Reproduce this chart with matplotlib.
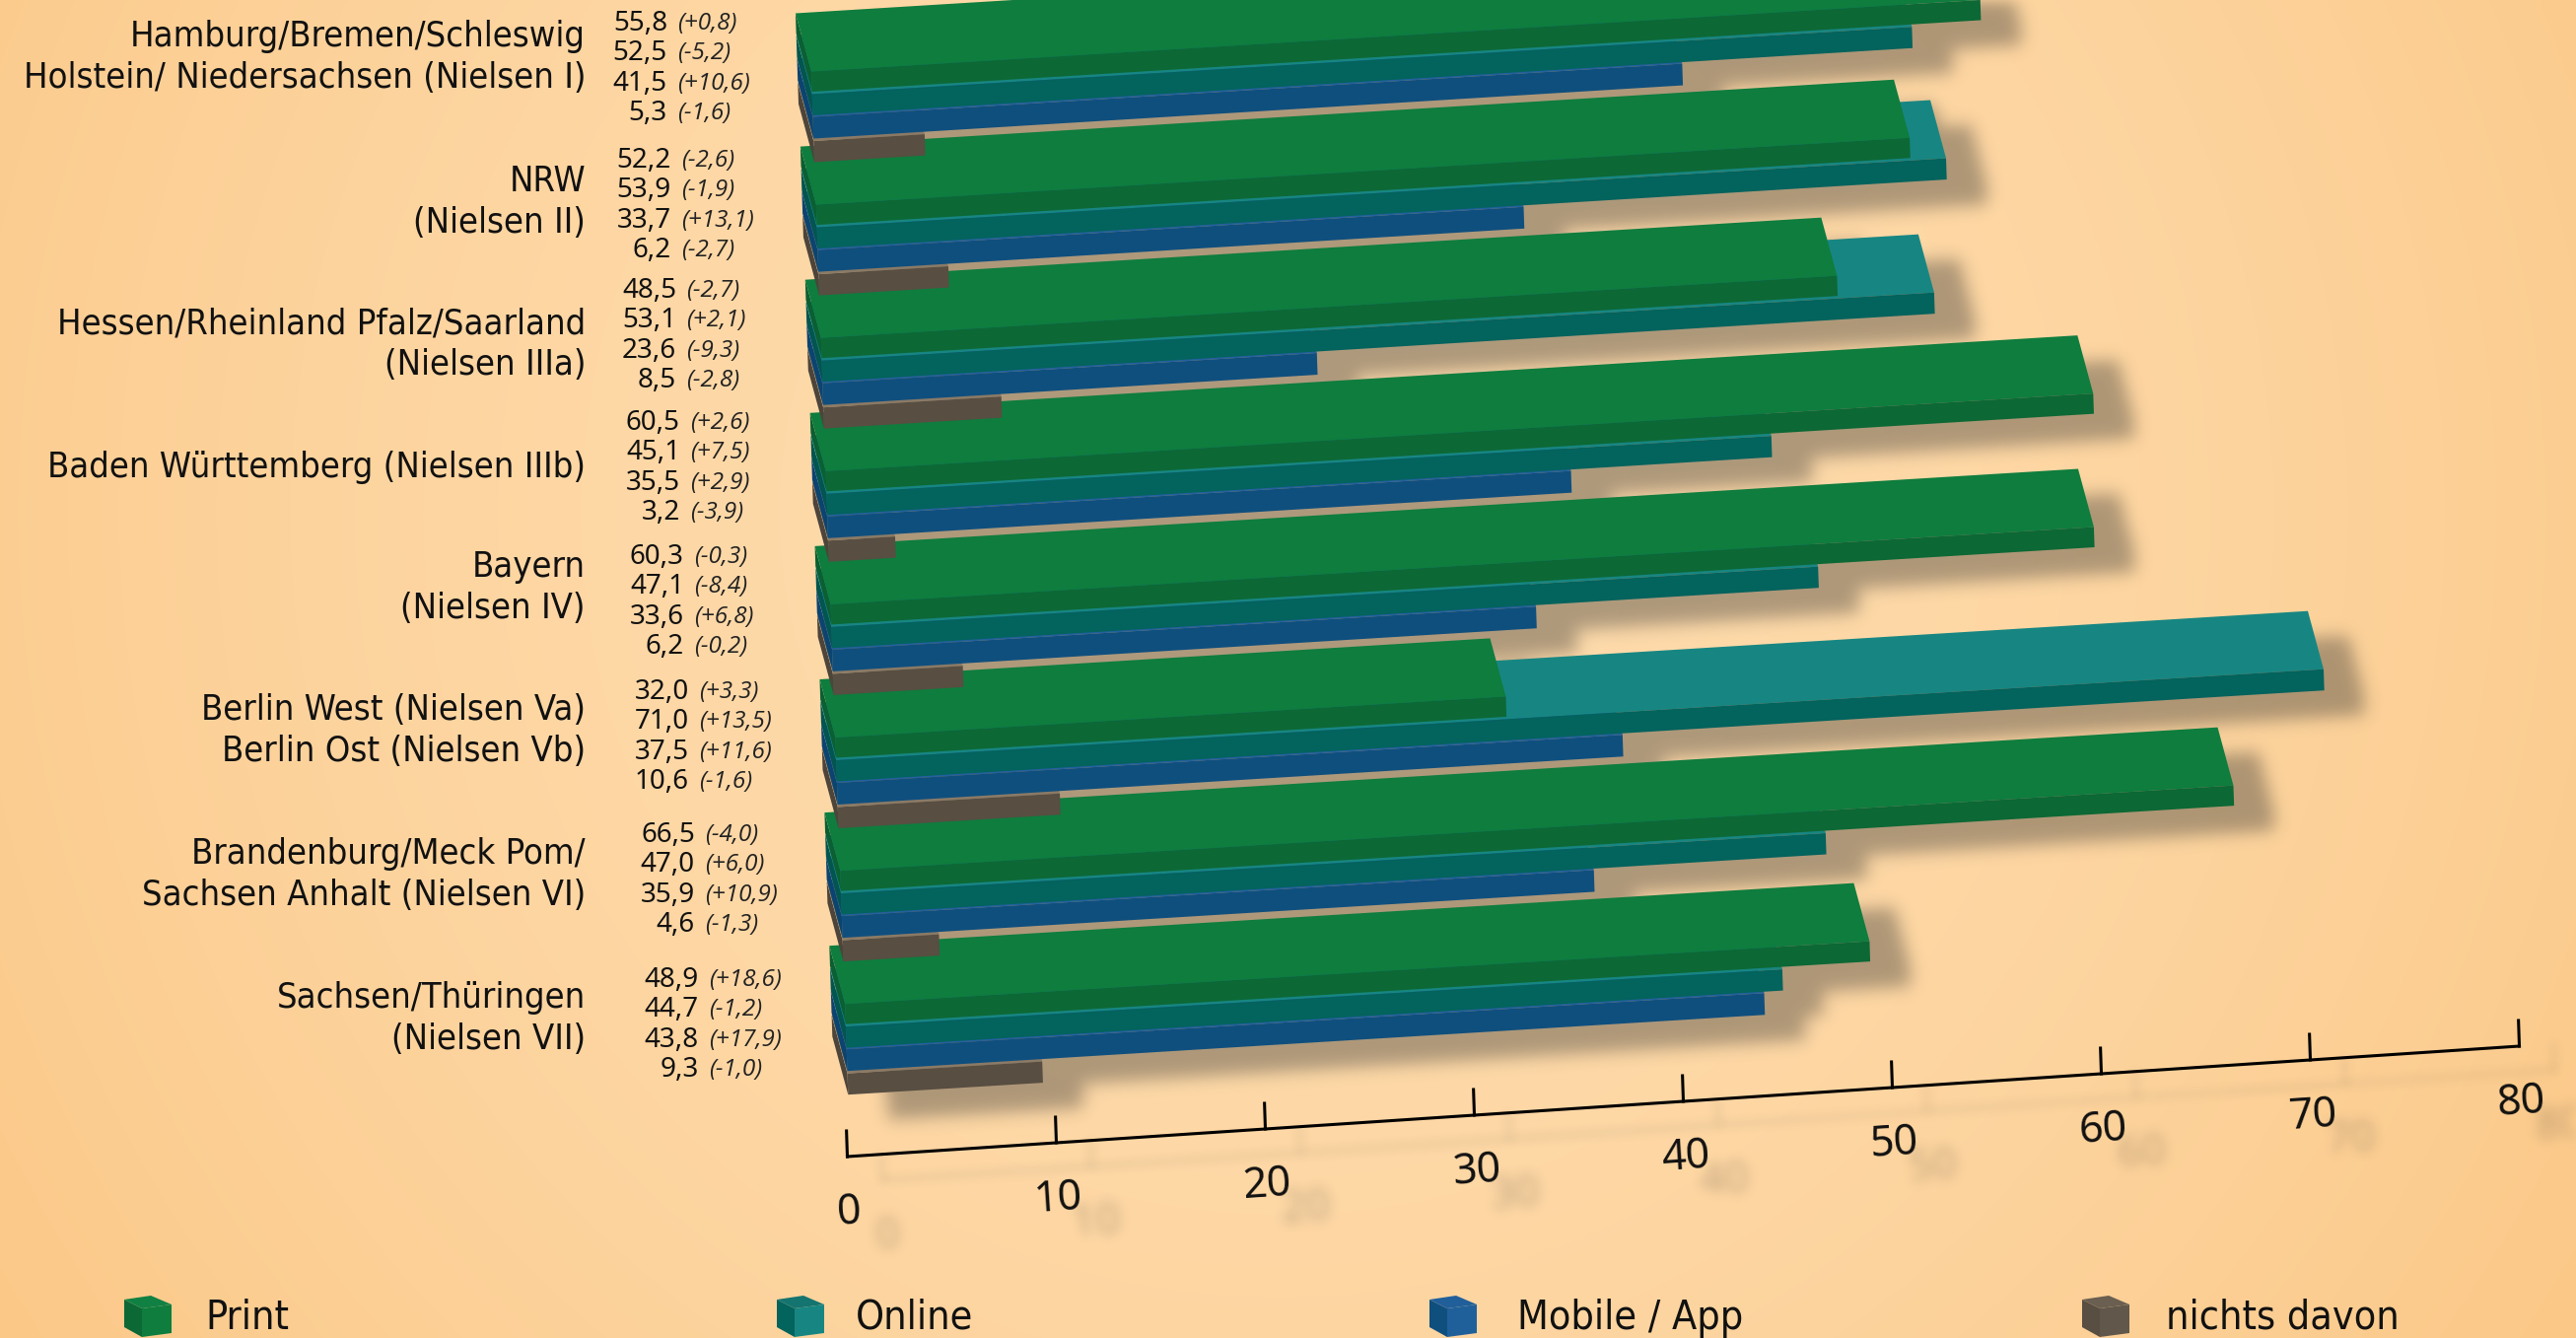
import matplotlib
matplotlib.use("Agg")
import matplotlib.pyplot as plt
from matplotlib.patches import Polygon, PathPatch
from matplotlib.collections import PolyCollection
from matplotlib.font_manager import FontProperties
from matplotlib.textpath import TextPath
from matplotlib.transforms import Affine2D
import numpy as np

regions = [
    "Hamburg/Bremen/Schleswig\nHolstein/ Niedersachsen (Nielsen I)",
    "NRW\n(Nielsen II)",
    "Hessen/Rheinland Pfalz/Saarland\n(Nielsen IIIa)",
    "Baden Württemberg (Nielsen IIIb)",
    "Bayern\n(Nielsen IV)",
    "Berlin West (Nielsen Va)\nBerlin Ost (Nielsen Vb)",
    "Brandenburg/Meck Pom/\nSachsen Anhalt (Nielsen VI)",
    "Sachsen/Thüringen\n(Nielsen VII)",
]
print_vals = [55.8, 52.2, 48.5, 60.5, 60.3, 32.0, 66.5, 48.9]
online_vals = [52.5, 53.9, 53.1, 45.1, 47.1, 71.0, 47.0, 44.7]
mobile_vals = [41.5, 33.7, 23.6, 35.5, 33.6, 37.5, 35.9, 43.8]
none_vals = [5.3, 6.2, 8.5, 3.2, 6.2, 10.6, 4.6, 9.3]

print_diff = [0.8, -2.6, -2.7, 2.6, -0.3, 3.3, -4.0, 18.6]
online_diff = [-5.2, -1.9, 2.1, 7.5, -8.4, 13.5, 6.0, -1.2]
mobile_diff = [10.6, 13.1, -9.3, 2.9, 6.8, 11.6, 10.9, 17.9]
none_diff = [-1.6, -2.7, -2.8, -3.9, -0.2, -1.6, -1.3, -1.0]

ticks = [0, 10, 20, 30, 40, 50, 60, 70, 80]
legend_names = ["Print", "Online", "Mobile / App", "nichts davon"]

W, H = 2613, 1357

# the sheared "3d" coordinate system, everything in pixels of the target
X0, Y0 = 826, 164.5   # front bottom left corner of the first group
GX, GY = 4.9, 135.1   # step per group
VX, VY = 21.25, -1.3  # step per unit of value
BX, BY = -16, -59     # depth of a bar
SLANT = 0.033

# bottom, top of each slab above the group's base line
layers = [
    (none_vals, 0, 21.5, "#584e42", "#8a7a66", "#4d443a"),
    (mobile_vals, 24, 46, "#0f4f7e", "#23619f", "#0c4470"),
    (online_vals, 47.5, 69, "#03635d", "#178682", "#03554f"),
    (print_vals, 71.5, 92, "#0c6835", "#0e7d3e", "#0b5f32"),
]
cubes = [
    (126, "#0c6835", "#0e7d3e", "#118043"),
    (788, "#03635d", "#178682", "#14746f"),
    (1450, "#0f4f7e", "#20609a", "#205f9a"),
    (2112, "#584e42", "#61574a", "#6a5f50"),
]
legend_x = [208, 868, 1539, 2197]

label_y = [58, 205, 349, 474, 596, 741, 887, 1033]
value_y = [24, 163, 295, 429, 565, 702, 847, 994]
value_x = [677, 681, 686, 690, 694, 699, 705, 709]


def pt(g, val=0, up=0, back=0):
    x = X0 + GX * g + VX * val - SLANT * up + BX * back
    y = Y0 + GY * g + VY * val - up + BY * back
    return (x, y)


def axis_pt(val, up=0):
    return (859.5 + 21.2 * val - SLANT * up, 1173 - 1.4 * val - up)


class Shadow:
    # agg filter: blur the alpha of whatever was drawn, fill with one colour
    def __init__(self, sigma, alpha, color=(0.21, 0.21, 0.2)):
        self.sigma = sigma
        self.alpha = alpha
        self.color = color

    def __call__(self, im, dpi):
        pad = int(self.sigma * 3)
        a = np.pad(im[:, :, 3], pad, "constant")
        fy = np.fft.fftfreq(a.shape[0])[:, None]
        fx = np.fft.fftfreq(a.shape[1])[None, :]
        kernel = np.exp(-2 * (np.pi * self.sigma) ** 2 * (fx ** 2 + fy ** 2))
        a = np.fft.ifft2(np.fft.fft2(a) * kernel).real
        out = np.zeros(a.shape + (4,))
        out[:, :, :3] = self.color
        out[:, :, 3] = np.clip(a, 0, 1) * self.alpha
        return out, -pad, -pad


fig = plt.figure(figsize=(W / 100, H / 100), dpi=100)
ax = fig.add_axes([0, 0, 1, 1])

# background, light in the middle and darker to the corners
yy, xx = np.mgrid[0:H, 0:W]
t = np.clip(np.hypot(xx - 1300, yy - 520) / 1550, 0, 1) ** 2
c0 = np.array([254, 219, 172]) / 255
c1 = np.array([251, 200, 135]) / 255
bg = c0 + (c1 - c0) * t[:, :, None]
ax.imshow(bg, extent=(0, W, H, 0), zorder=0, aspect="auto")

ax.set_xlim(0, W)
ax.set_ylim(H, 0)
ax.axis("off")

# drop shadows of the bars
SHX, SHY = 41, 25
for g in range(8):
    polys = []
    for vals, lo, hi, *_ in layers:
        v = vals[g]
        poly = [pt(g, 0, lo), pt(g, v, lo), pt(g, v, hi), pt(g, v, hi, 1), pt(g, 0, hi, 1), pt(g, 0, hi)]
        polys.append([(x + SHX, y + SHY) for x, y in poly])
    sh = PolyCollection(polys, facecolors="black", edgecolors="none", zorder=1)
    sh.set_agg_filter(Shadow(6, 0.63))
    ax.add_collection(sh)

# bars, later groups first because the grey bars lie over the next group
for g in range(7, -1, -1):
    for vals, lo, hi, front, top, side in layers:
        v = vals[g]
        ax.add_patch(Polygon([pt(g, 0, lo), pt(g, 0, hi), pt(g, 0, hi, 1), pt(g, 0, lo, 1)],
                             fc=side, ec="none", zorder=2))
        ax.add_patch(Polygon([pt(g, 0, hi), pt(g, v, hi), pt(g, v, hi, 1), pt(g, 0, hi, 1)],
                             fc=top, ec="none", zorder=2))
        ax.add_patch(Polygon([pt(g, 0, lo), pt(g, v, lo), pt(g, v, hi), pt(g, 0, hi)],
                             fc=front, ec="none", zorder=2))

# value axis
line_pts = [axis_pt(v) for v in ticks]
for off, zo, flt in [((36, 24), 1, Shadow(5, 0.16)), ((0, 0), 3, None)]:
    ln, = ax.plot([p[0] + off[0] for p in line_pts], [p[1] + off[1] for p in line_pts],
                  color="black", lw=2.2, zorder=zo, solid_capstyle="projecting")
    ln.set_agg_filter(flt)
    for v in ticks:
        x0, y0 = axis_pt(v)
        x1, y1 = axis_pt(v, 26)
        tk, = ax.plot([x0 + off[0], x1 + off[0]], [y0 + off[1], y1 + off[1]],
                      color="black", lw=2.2, zorder=zo)
        tk.set_agg_filter(flt)

tick_font = FontProperties(family="Noto Sans")
for v in ticks:
    x, y = axis_pt(v)
    ax.text(x + 2, y + 57, str(v), fontsize=31, family="Noto Sans", rotation=3.8,
            rotation_mode="anchor", ha="center", va="center", color="#111111", zorder=3)
    # blurred smudge of the label, only a shape
    tp = TextPath((0, 0), str(v), size=43, prop=tick_font)
    box = tp.get_extents()
    tr = (Affine2D().translate(-box.x0 - box.width / 2, -box.y0 - box.height / 2)
          .scale(1, -1).rotate_deg(-3.8).translate(x + 41, y + 77))
    smudge = PathPatch(tp, fc="black", ec="none", zorder=1, transform=tr + ax.transData)
    smudge.set_agg_filter(Shadow(6, 0.3))
    ax.add_patch(smudge)

# region names
for g, name in enumerate(regions):
    ax.text(594, label_y[g], name, fontsize=26, family="DejaVu Sans", stretch="condensed",
            ha="right", va="center", multialignment="right", linespacing=1.27, color="#111111", zorder=4)

# values and changes
for g in range(8):
    rows = zip([print_vals, online_vals, mobile_vals, none_vals],
               [print_diff, online_diff, mobile_diff, none_diff])
    for r, (vals, diffs) in enumerate(rows):
        y = value_y[g] + r * 30.3
        ax.text(value_x[g], y, f"{vals[g]:.1f}".replace(".", ","), fontsize=20, family="Noto Sans",
                ha="right", va="center", color="#111111", zorder=4)
        ax.text(value_x[g] + 10, y, f"({diffs[g]:+.1f})".replace(".", ","), fontsize=17.5, family="Open Sans",
                style="italic", ha="left", va="center", color="#222222", zorder=4)

# legend cubes
for (cx, front, right, top), name, tx in zip(cubes, legend_names, legend_x):
    ax.add_patch(Polygon([(cx, 1318), (cx + 18, 1327), (cx + 18, 1356), (cx, 1346)], fc=front, ec="none", zorder=3))
    ax.add_patch(Polygon([(cx + 18, 1327), (cx + 48, 1323), (cx + 48, 1352), (cx + 18, 1356)], fc=right, ec="none", zorder=3))
    ax.add_patch(Polygon([(cx, 1318), (cx + 27, 1314), (cx + 48, 1323), (cx + 18, 1327)], fc=top, ec="none", zorder=3))
    ax.text(tx, 1348, name, fontsize=29.5, family="DejaVu Sans", stretch="condensed",
            ha="left", va="baseline", color="#111111", zorder=4)

fig.savefig("out.png", dpi=100)
